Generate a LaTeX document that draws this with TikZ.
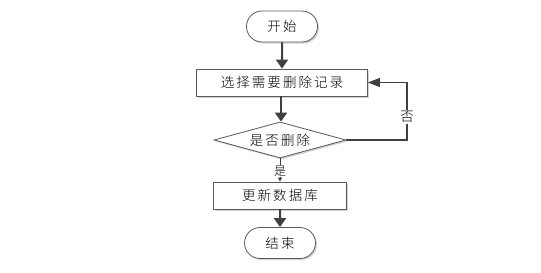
\documentclass[tikz,border=0pt]{standalone}
\usepackage{fontspec}
\setmainfont{Noto Sans CJK SC Light}[LetterSpace=15]
\usepackage{tikz}
\usetikzlibrary{arrows.meta,shapes.geometric,shapes.misc,shadows}
\definecolor{linegray}{HTML}{404040}
\definecolor{edgegray}{HTML}{5A5A5A}

\begin{document}
\begin{tikzpicture}[x=1pt,y=-1pt,
    font=\fontsize{13.5}{15}\selectfont,
    box/.style={draw=edgegray,line width=0.8pt,fill=white,inner sep=0pt,
      drop shadow={shadow xshift=1.5pt,shadow yshift=-1.5pt,fill=gray!35,opacity=1}},
    term/.style={box,rounded rectangle,minimum width=71pt,minimum height=31pt},
    proc/.style={box,rectangle,minimum height=27pt},
    decision/.style={box,diamond,aspect=3.6,minimum width=132pt,minimum height=36pt},
    flow/.style={draw=linegray,line width=2pt,-{Triangle[length=9pt,width=12pt]}},
    back/.style={draw=linegray,line width=1.2pt,-{Triangle[length=12pt,width=9pt]}},
    yes/.style={draw=linegray,line width=0.8pt,-{Triangle[length=4pt,width=4pt]}}]
  \useasboundingbox (0,0) rectangle (541,273);
  \node[term] (start) at (282,26.5) {开始};
  \node[proc,minimum width=171pt] (select) at (282,82.5) {选择需要删除记录};
  \node[decision] (ask) at (280,140) {是否删除};
  \node[proc,minimum width=133pt] (update) at (280,195.5) {更新数据库};
  \node[term] (finish) at (280,243) {结束};
  \coordinate (turn) at (407,140);
  \draw[flow] (start) -- (select);
  \draw[flow] (select.south -| 281,0) -- (ask.north -| 281,0);
  \draw[yes] (ask) -- node[fill=white,inner sep=0.5pt,pos=0.55,font=\fontsize{12}{13}\selectfont]{是} (update);
  \draw[flow] (update) -- (finish);
  \draw[back] (ask.east) -- (turn) -- node[fill=white,inner sep=1pt,pos=0.4]{否} (turn |- select.east) -- (select.east);
\end{tikzpicture}
\end{document}
